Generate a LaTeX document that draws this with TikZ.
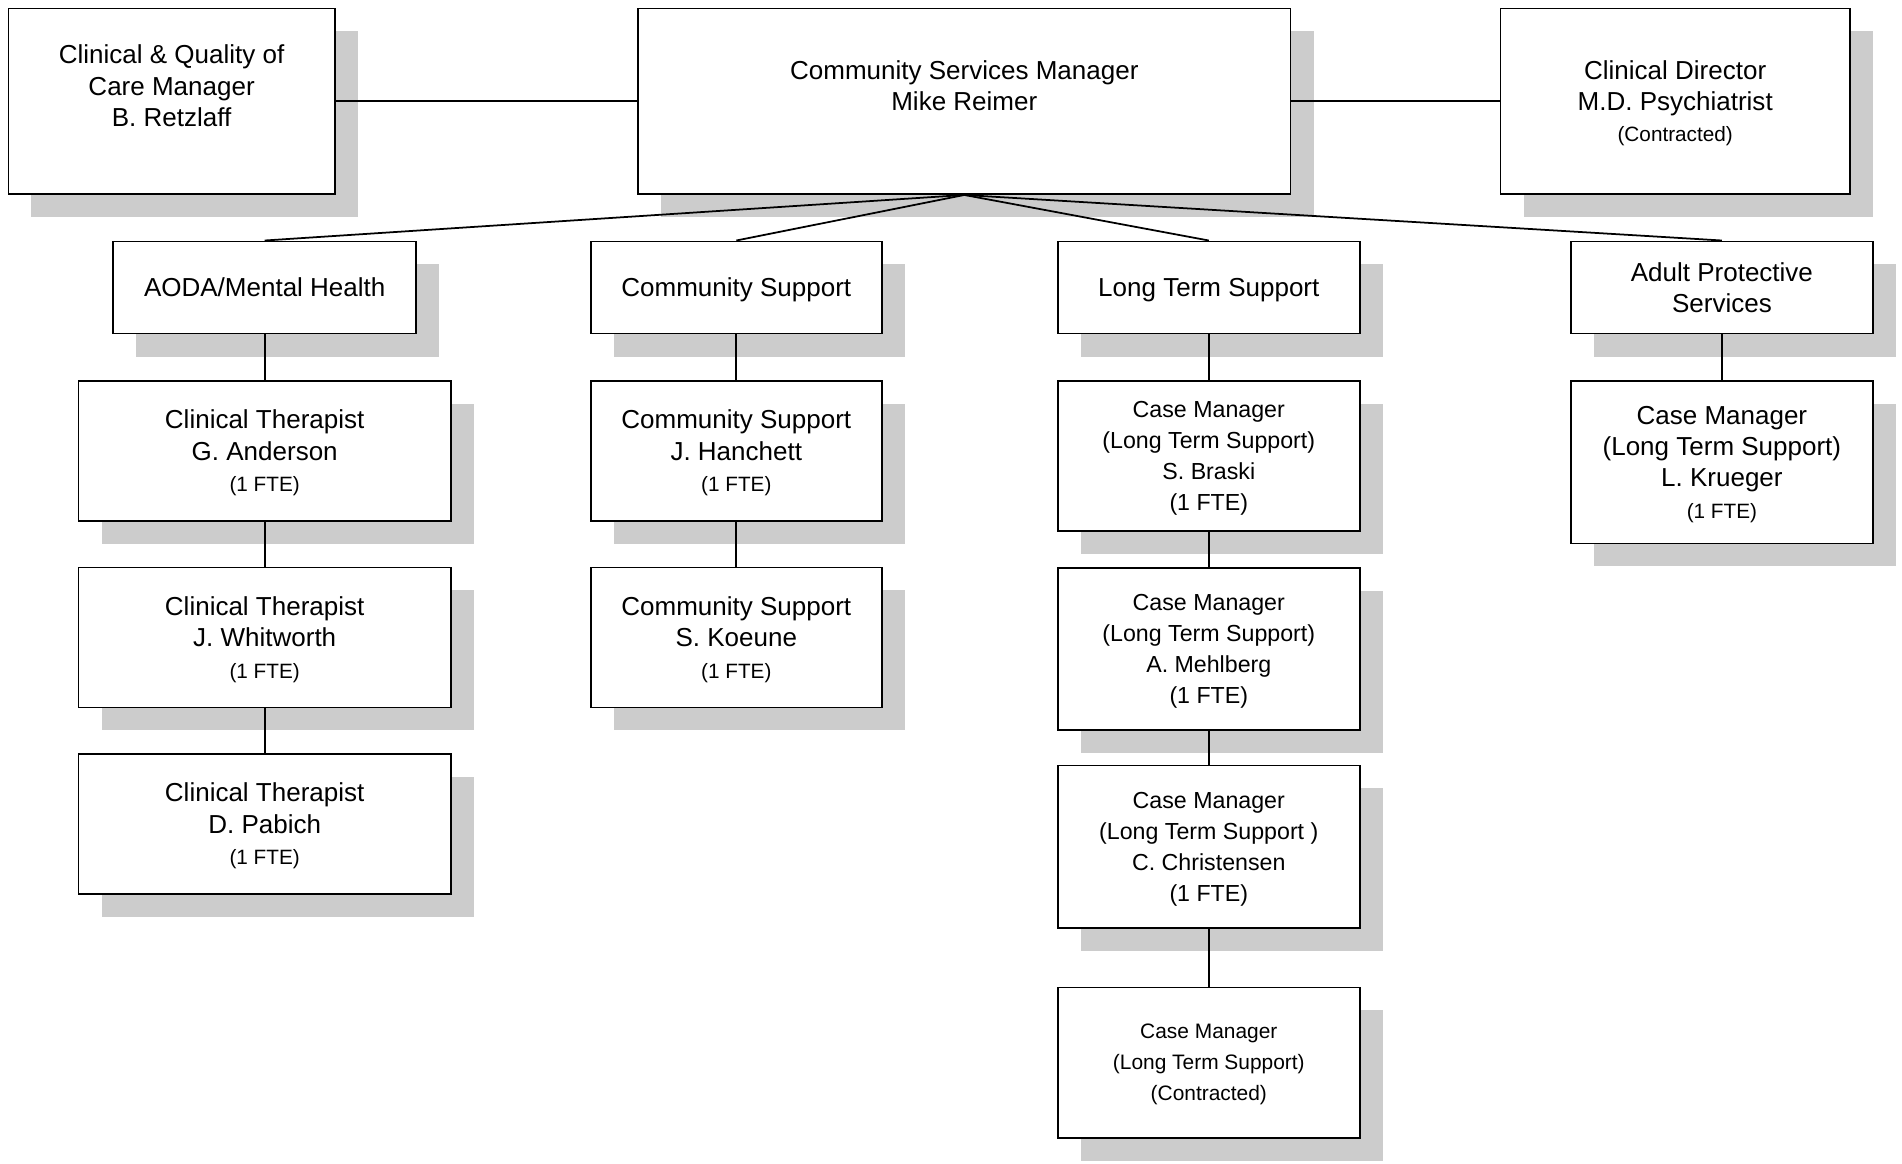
\documentclass[tikz,border=0pt]{standalone}
\usepackage{fontspec}
\setmainfont{Liberation Sans}
\usetikzlibrary{shadows}
\newcommand{\smallline}[1]{{\fontsize{5.9}{8.9}\selectfont #1}}

\begin{document}
\begin{tikzpicture}
      \useasboundingbox (0,0) rectangle (19.02,-11.64);
      \tikzstyle{unit}=[draw, line width=0.5pt, fill=white, align=center, inner sep=0pt,
        text depth=0pt, font=\fontsize{7.4}{8.9}\selectfont,
        drop shadow={shadow xshift=0.23cm, shadow yshift=-0.23cm, fill=black!20, opacity=1}]
      \tikzstyle{head}=[unit, minimum height=1.856cm]
      \tikzstyle{dept}=[unit, minimum height=0.922cm]
      \tikzstyle{staff}=[unit, minimum height=1.40cm]
      \tikzstyle{casebox}=[unit, minimum width=3.021cm, font=\fontsize{6.6}{8.8}\selectfont]
      \tikzstyle{link}=[line width=0.5pt]
      \node [head, minimum width=3.263cm] (quality) at (1.716,-1.013)
          {Clinical \& Quality of\\Care Manager\\B. Retzlaff\\\mbox{}};
      \node [head, minimum width=6.526cm] (manager) at (9.643,-1.013)
          {Community Services Manager\\Mike Reimer\\\mbox{}};
      \node [head, minimum width=3.493cm] (director) at (16.752,-1.013)
          {Clinical Director\\M.D. Psychiatrist\\\smallline{(Contracted)}};
      \node [dept, minimum width=3.033cm] (aoda) at (2.647,-2.875) {AODA/Mental Health};
      \node [dept, minimum width=2.912cm] (community) at (7.363,-2.875) {Community Support};
      \node [dept, minimum width=3.021cm] (longterm) at (12.088,-2.875) {Long Term Support};
      \node [dept, minimum width=3.020cm] (protective) at (17.219,-2.875) {Adult Protective\\Services};
      \node [staff, minimum width=3.724cm] (anderson) at (2.647,-4.507)
          {Clinical Therapist\\G. Anderson\\\smallline{(1 FTE)}};
      \node [staff, minimum width=3.724cm] (whitworth) at (2.647,-6.375)
          {Clinical Therapist\\J. Whitworth\\\smallline{(1 FTE)}};
      \node [staff, minimum width=3.724cm] (pabich) at (2.647,-8.237)
          {Clinical Therapist\\D. Pabich\\\smallline{(1 FTE)}};
      \node [staff, minimum width=2.912cm] (hanchett) at (7.363,-4.507)
          {Community Support\\J. Hanchett\\\smallline{(1 FTE)}};
      \node [staff, minimum width=2.912cm] (koeune) at (7.363,-6.375)
          {Community Support\\S. Koeune\\\smallline{(1 FTE)}};
      \node [casebox, minimum height=1.504cm] (braski) at (12.088,-4.561)
          {Case Manager\\(Long Term Support)\\S. Braski\\(1 FTE)};
      \node [casebox, minimum height=1.625cm] (mehlberg) at (12.088,-6.490)
          {Case Manager\\(Long Term Support)\\A. Mehlberg\\(1 FTE)};
      \node [casebox, minimum height=1.626cm] (christensen) at (12.088,-8.467)
          {Case Manager\\(Long Term Support )\\C. Christensen\\(1 FTE)};
      \node [casebox, minimum height=1.504cm, font=\fontsize{5.95}{8.8}\selectfont] (contracted) at (12.088,-10.626)
          {Case Manager\\(Long Term Support)\\(Contracted)};
      \node [unit, minimum width=3.020cm, minimum height=1.625cm] (krueger) at (17.219,-4.622)
          {Case Manager\\(Long Term Support)\\L. Krueger\\\smallline{(1 FTE)}};
      \draw [link] (quality.east) -- (manager.west);
      \draw [link] (manager.east) -- (director.west);
      \draw [link] (manager.south) -- (aoda.north);
      \draw [link] (manager.south) -- (community.north);
      \draw [link] (manager.south) -- (longterm.north);
      \draw [link] (manager.south) -- (protective.north);
      \draw [link] (aoda.south) -- (anderson.north);
      \draw [link] (anderson.south) -- (whitworth.north);
      \draw [link] (whitworth.south) -- (pabich.north);
      \draw [link] (community.south) -- (hanchett.north);
      \draw [link] (hanchett.south) -- (koeune.north);
      \draw [link] (longterm.south) -- (braski.north);
      \draw [link] (braski.south) -- (mehlberg.north);
      \draw [link] (mehlberg.south) -- (christensen.north);
      \draw [link] (christensen.south) -- (contracted.north);
      \draw [link] (protective.south) -- (krueger.north);
      \end{tikzpicture}
\end{document}
